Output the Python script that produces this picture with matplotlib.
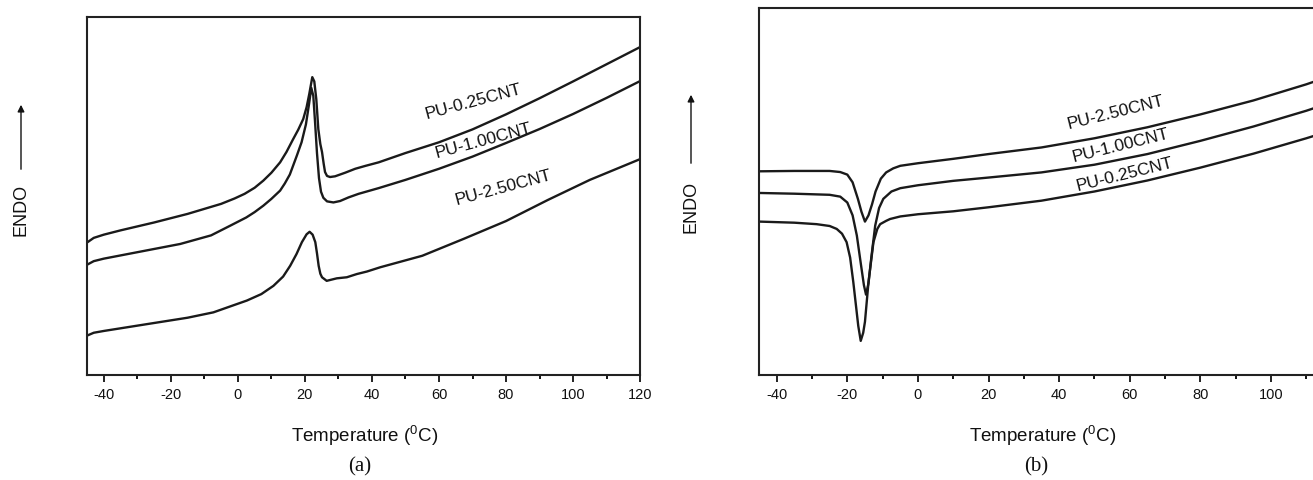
import matplotlib
matplotlib.use('Agg')
import matplotlib.pyplot as plt
from matplotlib.ticker import MultipleLocator

plt.rcParams['font.family'] = ['Liberation Sans', 'DejaVu Sans']
plt.rcParams['mathtext.fontset'] = 'custom'
plt.rcParams['mathtext.rm'] = 'Liberation Sans'
plt.rcParams['mathtext.default'] = 'regular'
plt.rcParams['axes.unicode_minus'] = False

# (a) heating scans, arbitrary heat-flow units
t_a_025 = [-45, -43, -40, -35, -25, -15, -5, -1, 2, 5, 7.6, 10, 12.6, 14.5, 16.5, 18, 19.5, 20.5,
           21.3, 22.2, 22.8, 23.4, 24.0, 24.6, 25.1, 25.6, 26.0, 26.6, 27.5, 29, 32, 35, 38, 42,
           50, 60, 70, 80, 90, 100, 110, 120]
v_a_025 = [37.0, 38.3, 39.2, 40.4, 42.6, 45.0, 47.8, 49.3, 50.6, 52.3, 54.3, 56.5, 59.4, 62.3, 65.9, 68.5, 71.5, 74.8,
           78.5, 83.2, 82.0, 77.0, 68.7, 64.5, 62.3, 59.0, 56.7, 55.6, 55.3, 55.5, 56.5, 57.6, 58.4, 59.4,
           62.0, 65.0, 68.6, 72.8, 77.3, 82.0, 86.8, 91.6]

t_a_100 = [-45, -43, -40, -30, -17.2, -8, -2.3, 2.5, 5, 7.6, 10, 12.6, 14, 15.5, 17.6, 19, 20.3, 21.2,
           21.9, 22.5, 23.0, 23.6, 24.2, 24.8, 25.5, 26.6, 28.5, 30.5, 33, 36, 42,
           50, 60, 70, 80, 90, 100, 110, 120]
v_a_100 = [30.8, 31.8, 32.5, 34.3, 36.6, 39.0, 41.7, 44.0, 45.5, 47.3, 49.2, 51.5, 53.5, 56.0, 61.3, 65.0, 70.0, 75.5,
           80.2, 78.0, 71.0, 62.0, 55.0, 51.2, 49.5, 48.5, 48.2, 48.6, 49.6, 50.6, 52.2,
           54.5, 57.6, 61.0, 64.8, 68.7, 72.9, 77.4, 82.1]

t_a_250 = [-45, -43, -40, -27.2, -15, -7.3, 2.7, 7, 10.6, 13.5, 15.6, 17.5, 19.1, 20.5, 21.4, 22.3,
           23.1, 23.6, 24.1, 24.6, 25.1, 26.5, 29.5, 32.5, 35.5, 38.5, 42.5, 55, 67.3, 80, 92.5, 105, 120]
v_a_250 = [11.0, 11.8, 12.3, 14.2, 16.0, 17.5, 20.8, 22.6, 24.9, 27.5, 30.5, 33.8, 37.1, 39.3, 40.0, 39.2,
           37.1, 34.0, 30.5, 28.3, 27.3, 26.3, 27.0, 27.3, 28.2, 28.9, 30.1, 33.3, 38.0, 43.0, 48.9, 54.5, 60.3]

# (b) cooling scans
t_b_250 = [-45, -35, -25, -22, -20, -18.5, -17, -16, -15, -14, -13, -12, -10.5, -9, -7, -5,
           0, 10, 20, 35, 50, 65, 80, 95, 110, 120]
v_b_250 = [55.5, 55.6, 55.6, 55.3, 54.6, 52.5, 48.0, 44.5, 41.8, 43.5, 46.5, 50.0, 53.5, 55.2, 56.3, 57.0,
           57.7, 58.9, 60.2, 62.0, 64.5, 67.5, 71.0, 74.8, 79.2, 82.5]

t_b_100 = [-45, -35, -25, -22, -20, -18.5, -17.3, -16.2, -15.3, -14.7, -14.0, -13.2, -12.1, -11, -9.8,
           -7.5, -5, 0, 10, 20, 35, 50, 65, 80, 95, 110, 120]
v_b_100 = [49.6, 49.4, 49.1, 48.6, 47.0, 43.5, 38.0, 30.5, 24.5, 21.9, 25.0, 32.0, 40.7, 45.5, 48.0,
           50.0, 50.9, 51.7, 52.9, 53.8, 55.2, 57.3, 60.2, 63.8, 67.7, 72.0, 75.2]

t_b_025 = [-45, -35, -28.7, -25, -23, -21.5, -20.2, -19.2, -18.3, -17.5, -16.9, -16.2, -15.5, -15.0,
           -14.0, -13.2, -12.6, -11.5, -10.7, -9, -7.9, -5, 0, 10, 20, 35, 50, 65, 80, 95, 110, 120]
v_b_025 = [41.8, 41.5, 41.1, 40.6, 39.8, 38.5, 36.2, 32.0, 25.3, 18.5, 13.4, 9.3, 11.5, 14.5,
           25.3, 31.5, 36.2, 39.8, 41.1, 42.0, 42.5, 43.2, 43.8, 44.6, 45.7, 47.5, 50.0, 53.0, 56.5, 60.3, 64.5, 67.5]

labels_a = ['PU-0.25CNT', 'PU-1.00CNT', 'PU-2.50CNT']
label_pos_a = [(70.2, 76.5), (73.2, 65.6), (79.2, 52.5)]
labels_b = ['PU-2.50CNT', 'PU-1.00CNT', 'PU-0.25CNT']
label_pos_b = [(56.1, 71.7), (57.5, 62.7), (58.7, 55.0)]


def style_axes(ax, xmax):
    ax.set_xlim(-45, xmax)
    ax.set_ylim(0, 100)
    ax.set_yticks([])
    ax.xaxis.set_major_locator(MultipleLocator(20))
    ax.xaxis.set_minor_locator(MultipleLocator(10))
    ax.tick_params(axis='x', which='major', direction='out', length=5, width=1.3,
                   labelsize=10.5, pad=4, colors='#111111')
    ax.tick_params(axis='x', which='minor', direction='out', length=3, width=1.3)
    for s in ax.spines.values():
        s.set_linewidth(1.5)
        s.set_color('#222222')


fig = plt.figure(figsize=(13.13, 4.81), dpi=100)
ax1 = fig.add_axes([0.0663, 0.2183, 0.4212, 0.7443])
# right panel is cropped at the figure edge in the original
ax2 = fig.add_axes([0.5781, 0.2183, 0.4235, 0.763])

for t, v in [(t_a_025, v_a_025), (t_a_100, v_a_100), (t_a_250, v_a_250)]:
    ax1.plot(t, v, color='#1a1a1a', lw=1.7)
for t, v in [(t_b_250, v_b_250), (t_b_100, v_b_100), (t_b_025, v_b_025)]:
    ax2.plot(t, v, color='#1a1a1a', lw=1.7)

style_axes(ax1, 120)
style_axes(ax2, 112.5)
ax2.spines['right'].set_visible(False)

for lab, (x, y) in zip(labels_a, label_pos_a):
    ax1.text(x, y, lab, fontsize=12.5, rotation=15, ha='center', va='center', color='#111111')
for lab, (x, y) in zip(labels_b, label_pos_b):
    ax2.text(x, y, lab, fontsize=12.5, rotation=14, ha='center', va='center', color='#111111')

# axis titles placed in figure pixels
W, H = 1313, 481
for xc, xl, sub in [(365, 360, '(a)'), (1043, 1036, '(b)')]:
    fig.text(xc / W, 1 - 436 / H, 'Temperature ($^{0}$C)', fontsize=13.5,
             ha='center', va='center', color='#111111')
    fig.text(xl / W, 1 - 467 / H, sub, fontsize=15, family='Liberation Serif',
             ha='center', va='center', color='#111111')

for xe, yc, ya, yb in [(21, 210, 173, 103), (691, 207, 167, 93)]:
    fig.text(xe / W, 1 - yc / H, 'ENDO', fontsize=13, rotation=90,
             ha='center', va='center', color='#111111')
    fig.add_artist(matplotlib.patches.FancyArrowPatch(
        (xe / W, 1 - ya / H), (xe / W, 1 - yb / H), transform=fig.transFigure,
        arrowstyle='-|>', mutation_scale=10, lw=1.0, color='#111111'))

fig.savefig('out.png', dpi=100)
